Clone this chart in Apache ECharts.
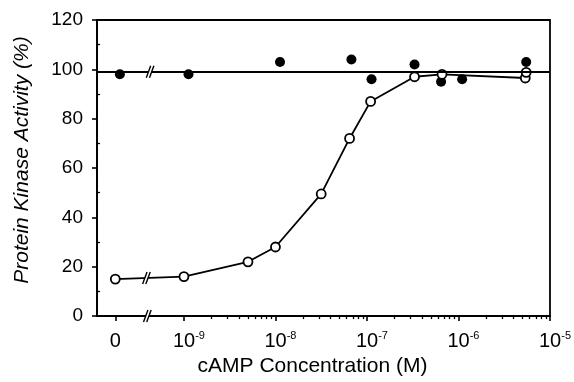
<!DOCTYPE html>
<html>
<head>
<meta charset="utf-8">
<script src="https://cdn.jsdelivr.net/npm/echarts@6/dist/echarts.min.js"></script>
<style>
  html, body { margin: 0; padding: 0; background: #fff; }
  #chart { width: 574px; height: 382px; }
</style>
</head>
<body>
<div id="chart"></div>
<script>
// ---- data (x positions in log10(M) units; concentration 0 is drawn at zeroPos, before the axis break) ----
const zeroPos = -9.75;
const xTickPositions = [zeroPos, -9, -8, -7, -6, -5];
const xTickExponents = [null, '-9', '-8', '-7', '-6', '-5'];
const yTicks = [0, 20, 40, 60, 80, 100, 120];

const openX = [zeroPos, -9, -8.30, -8.00, -7.50, -7.19, -6.96, -6.48, -6.18, -5.27];
const openY = [15, 16, 22, 28, 49.5, 72, 87, 97, 98, 96.5];
const openExtraX = [-5.26];
const openExtraY = [98.8];

const filledX = [-9.70, -8.95, -7.95, -7.17, -6.95, -6.48, -6.19, -5.96, -5.26];
const filledY = [98, 98, 103, 104, 96, 102, 95, 96, 103];

const referenceLevel = 99;

const breakX = [-9.40, -9.37, -9.41];
const breakY = [0, 99, 15.45];

const xMin = -9.95, xMax = -5;
// ---------------------------------------------------------------------

const minorX = [];
for (let n = -9; n < -5; n++) {
  for (let k = 2; k <= 9; k++) minorX.push(n + Math.log10(k));
}
const minorY = [10, 30, 50, 70, 90, 110];

const FONT = '"Liberation Sans", Arial, Helvetica, sans-serif';
const chart = echarts.init(document.getElementById('chart'), null, { renderer: 'canvas' });

function labelFor(v) {
  let idx = 0, best = 1e9;
  xTickPositions.forEach((p, i) => { const d = Math.abs(p - v); if (d < best) { best = d; idx = i; } });
  const e = xTickExponents[idx];
  if (e === null) return '{z|0}';
  return '{b|10}{s|' + e + '}';
}

const option = {
  animation: false,
  backgroundColor: '#fff',
  grid: {
    left: 97, right: 18, top: 20, bottom: 63,
    show: true, borderColor: '#000', borderWidth: 1.8, backgroundColor: 'transparent'
  },
  xAxis: [
    {
      type: 'value', min: xMin, max: xMax, position: 'bottom',
      axisLine: { show: true, onZero: false, lineStyle: { color: '#000', width: 1.8 } },
      axisTick: { show: true, inside: false, length: 5, customValues: xTickPositions, lineStyle: { color: '#000', width: 1.6 } },
      axisLabel: {
        show: true, customValues: xTickPositions, margin: 14, formatter: labelFor,
        rich: {
          z: { fontSize: 20, fontFamily: FONT, color: '#000', lineHeight: 22 },
          b: { fontSize: 20, fontFamily: FONT, color: '#000', lineHeight: 22, padding: [0, 0, 0, 10] },
          s: { fontSize: 11, fontFamily: FONT, color: '#000', lineHeight: 6, verticalAlign: 'top' }
        }
      },
      splitLine: { show: false },
      name: 'cAMP Concentration (M)', nameLocation: 'middle', nameGap: 37,
      nameTextStyle: { fontSize: 21, fontFamily: FONT, color: '#000', padding: [0, 22, 0, 0] }
    },
    {
      type: 'value', min: xMin, max: xMax, position: 'bottom', gridIndex: 0,
      axisLine: { show: false },
      axisTick: { show: true, inside: false, length: 3, customValues: minorX, lineStyle: { color: '#000', width: 1.3 } },
      axisLabel: { show: false },
      splitLine: { show: false }
    }
  ],
  yAxis: [
    {
      type: 'value', min: 0, max: 120, interval: 20,
      axisLine: { show: true, lineStyle: { color: '#000', width: 1.8 } },
      axisTick: { show: true, inside: false, length: 5, lineStyle: { color: '#000', width: 1.6 } },
      axisLabel: { margin: 14, fontSize: 19, fontFamily: FONT, color: '#000' },
      splitLine: { show: false },
      name: 'Protein Kinase Activity (%)', nameLocation: 'middle', nameGap: 64, nameRotate: 90,
      nameTextStyle: { fontSize: 21, fontStyle: 'italic', fontFamily: FONT, color: '#000', padding: [0, 0, 0, 16] }
    },
    {
      type: 'value', min: 0, max: 120, position: 'left', offset: 0,
      axisLine: { show: false },
      axisTick: { show: true, inside: true, length: 3, customValues: minorY, lineStyle: { color: '#000', width: 1.3 } },
      axisLabel: { show: false },
      splitLine: { show: false }
    }
  ],
  series: [
    {
      type: 'scatter', name: 'filled', xAxisIndex: 0, yAxisIndex: 0,
      data: filledX.map((x, i) => [x, filledY[i]]),
      symbol: 'circle', symbolSize: 10,
      itemStyle: { color: '#000', opacity: 1 },
      markLine: {
        silent: true, symbol: ['none', 'none'], animation: false,
        label: { show: false },
        lineStyle: { color: '#000', width: 1.8, type: 'solid' },
        data: [{ yAxis: referenceLevel }]
      },
      z: 3
    },
    {
      type: 'line', name: 'open', xAxisIndex: 0, yAxisIndex: 0,
      data: openX.map((x, i) => [x, openY[i]]),
      symbol: 'circle', symbolSize: 9, showSymbol: true,
      lineStyle: { color: '#000', width: 1.8 },
      itemStyle: { color: '#fff', borderColor: '#000', borderWidth: 1.8, opacity: 1 },
      z: 4
    },
    {
      type: 'scatter', name: 'openExtra', xAxisIndex: 0, yAxisIndex: 0,
      data: openExtraX.map((x, i) => [x, openExtraY[i]]),
      symbol: 'circle', symbolSize: 9,
      itemStyle: { color: '#fff', borderColor: '#000', borderWidth: 1.8, opacity: 1 },
      z: 4
    },
    {
      type: 'custom', name: 'breaks', xAxisIndex: 0, yAxisIndex: 0,
      clip: false, silent: true, z: 10,
      data: breakX.map((x, i) => [x, breakY[i]]),
      renderItem: function (params, api) {
        const p = api.coord([api.value(0), api.value(1)]);
        const h = 6, s = 2.2, g = 1.6;
        const x = p[0], y = p[1];
        return {
          type: 'group',
          children: [
            { type: 'polygon', shape: { points: [[x - s - g, y + h], [x + s - g, y - h], [x + s + g, y - h], [x - s + g, y + h]] }, style: { fill: '#fff' } },
            { type: 'line', shape: { x1: x - s - g, y1: y + h, x2: x + s - g, y2: y - h }, style: { stroke: '#000', lineWidth: 1.4 } },
            { type: 'line', shape: { x1: x - s + g, y1: y + h, x2: x + s + g, y2: y - h }, style: { stroke: '#000', lineWidth: 1.4 } }
          ]
        };
      }
    }
  ]
};
chart.setOption(option);
</script>
</body>
</html>
